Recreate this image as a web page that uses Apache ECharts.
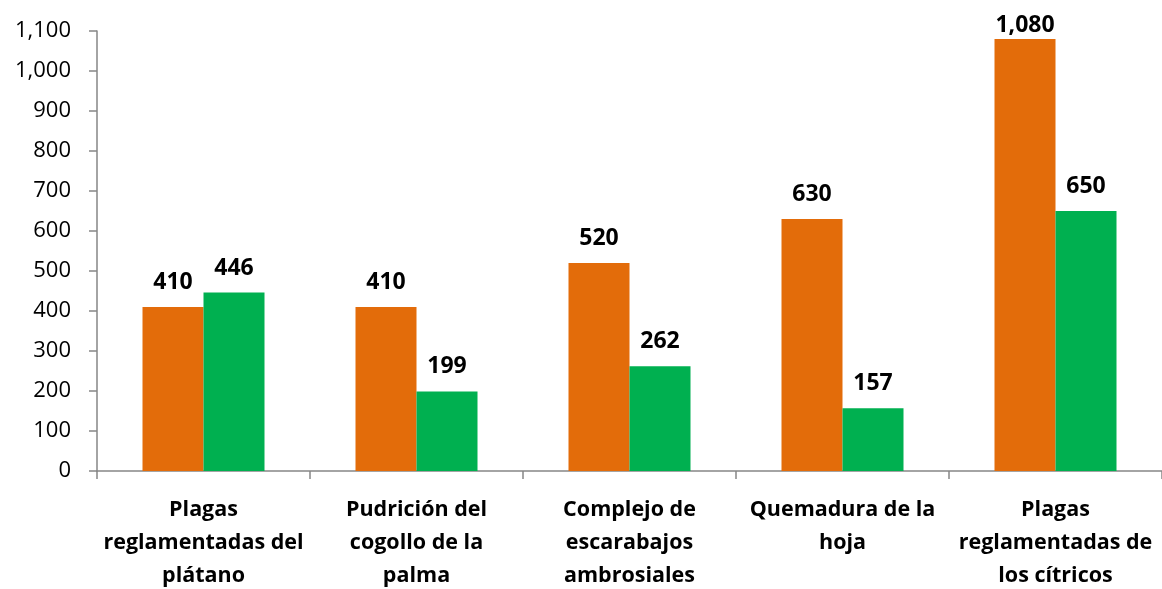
<!DOCTYPE html>
<html>
<head>
<meta charset="utf-8">
<script src="https://cdn.jsdelivr.net/npm/echarts@6/dist/echarts.min.js"></script>
<style>
  html, body { margin: 0; padding: 0; background: #fff; }
  #main { width: 1162px; height: 589px; }
</style>
</head>
<body>
<div id="main"></div>
<script>
'use strict'

// categories (line breaks as in the original)
const categories = [
    'Plagas\nreglamentadas del\nplátano',
    'Pudrición del\ncogollo de la\npalma',
    'Complejo de\nescarabajos\nambrosiales',
    'Quemadura de la\nhoja',
    'Plagas\nreglamentadas de\nlos cítricos'
];

// series values
const orangeValues = [410, 410, 520, 630, 1080];
const greenValues = [446, 199, 262, 157, 650];

const fontFamily = '"Open Sans", sans-serif';

// based on prepared DOM, initialize echarts instance
var myChart = echarts.init(document.getElementById('main'));

function fmt(v) {
    return v.toLocaleString('en-US');
}

var barLabel = {
    show: true,
    position: 'top',
    distance: 13,
    fontFamily: fontFamily,
    fontWeight: 'bold',
    fontSize: 23,
    color: '#000',
    formatter: function (p) { return fmt(p.value); }
};

// labels near the top of the plot get squeezed down like in the original
function toData(values) {
    return values.map(function (v) {
        if (v > 1000) {
            return { value: v, label: { distance: 2 } };
        }
        return v;
    });
}

var option = {
    animation: false,
    grid: {
        left: 97,
        right: 0,
        top: 31,
        bottom: 118,
        outerBoundsMode: 'none'
    },
    xAxis: {
        type: 'category',
        data: categories,
        axisLine: { lineStyle: { color: '#868686', width: 1.5 } },
        axisTick: { show: true, length: 8, lineStyle: { color: '#868686', width: 1.5 } },
        axisLabel: {
            interval: 0,
            margin: 22,
            fontFamily: fontFamily,
            fontWeight: 'bold',
            fontSize: 21.5,
            lineHeight: 33,
            color: '#000'
        }
    },
    yAxis: {
        type: 'value',
        min: 0,
        max: 1100,
        interval: 100,
        axisLine: { show: true, lineStyle: { color: '#868686', width: 1.5 } },
        axisTick: { show: true, length: 8, lineStyle: { color: '#868686', width: 1.5 } },
        splitLine: { show: false },
        axisLabel: {
            margin: 26,
            fontFamily: fontFamily,
            fontSize: 22,
            color: '#000',
            formatter: function (v) { return fmt(v); }
        }
    },
    series: [
        {
            type: 'bar',
            data: toData(orangeValues),
            barWidth: 61,
            barGap: '0%',
            itemStyle: { color: '#E36C0A' },
            label: barLabel
        },
        {
            type: 'bar',
            data: toData(greenValues),
            barWidth: 61,
            itemStyle: { color: '#00B050' },
            label: barLabel
        }
    ]
};

myChart.setOption(option);
</script>
</body>
</html>
